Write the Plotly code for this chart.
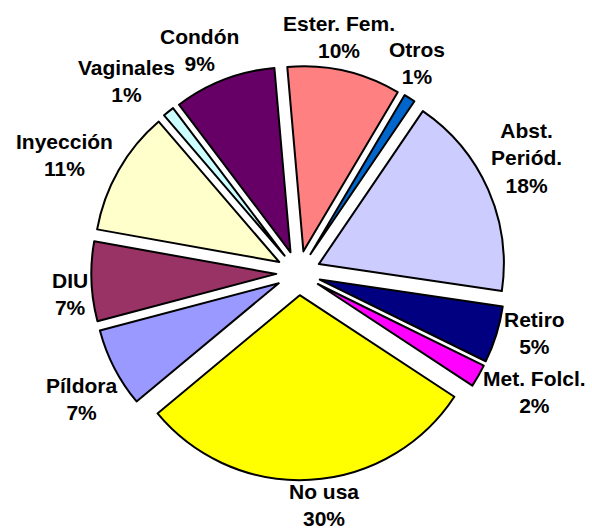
import math
import plotly.graph_objects as go

# ---- data ----
labels = ["Ester. Fem.", "Otros", "Abst.<br>Periód.", "Retiro", "Met. Folcl.",
          "No usa", "Píldora", "DIU", "Inyección", "Vaginales", "Condón"]
values = [10, 1, 18, 5, 2, 30, 7, 7, 11, 1, 9]
colors = ["#FF8080", "#0066CC", "#CCCCFF", "#000080", "#FF00FF",
          "#FFFF00", "#9999FF", "#993366", "#FFFFCC", "#CCFFFF", "#660066"]

# ---- layout / style parameters ----
W, H = 592, 531
CX, CY = 298.5, 273.0        # pie centre (px from top-left)
R = 185.0                    # pie radius (px)
PULL = 0.12                  # explosion as fraction of radius
ROTATION = -5                # start angle (deg, clockwise from 12 o'clock)
FONT_SIZE = 21
LINE_H = 1.3 * FONT_SIZE
LABEL_GAP = 2.0
V_FACTOR = 0.75              # vertical clearance factor for label boxes
LABEL_SHIFT = -3.0           # small angular shift of label placement (deg)

# Arial/Liberation Sans Bold advance widths (per 1000 em)
ADV = {'A': 722, 'C': 722, 'D': 722, 'E': 667, 'F': 611, 'I': 278, 'M': 833,
       'N': 722, 'O': 778, 'P': 667, 'R': 722, 'U': 722, 'V': 667,
       'a': 556, 'b': 611, 'c': 556, 'd': 611, 'e': 556, 'f': 333, 'g': 611,
       'i': 278, 'l': 278, 'm': 889, 'n': 611, 'o': 611, 'p': 611, 'r': 389,
       's': 556, 't': 333, 'u': 611, 'y': 556, 'í': 278, 'ó': 611,
       ' ': 278, '.': 278, '%': 889}


def text_width(s):
    return sum(ADV.get(ch, 556) for ch in s) / 1000.0 * FONT_SIZE


box = R * (1 + PULL)
dom_x = [(CX - box) / W, (CX + box) / W]
dom_y = [(H - CY - box) / H, (H - CY + box) / H]

fig = go.Figure(go.Pie(
    labels=labels,
    values=values,
    sort=False,
    direction="clockwise",
    rotation=ROTATION,
    pull=[PULL] * len(values),
    automargin=False,
    domain=dict(x=dom_x, y=dom_y),
    marker=dict(colors=colors, line=dict(color="black", width=2)),
    textinfo="none",
    showlegend=False,
    hoverinfo="label+value",
))

# ---- outside labels, placed from the slice mid-angles ----
total = sum(values)
cum = 0.0
annotations = []
for lab, v in zip(labels, values):
    mid = ROTATION + 360.0 * (cum + v / 2.0) / total
    cum += v
    a = math.radians(mid + LABEL_SHIFT)
    ux, uy = math.sin(a), -math.cos(a)
    text = f"{lab}<br>{v}%"
    lines = text.split("<br>")
    w = max(text_width(s) for s in lines)
    h = len(lines) * LINE_H
    d = R * (1 + PULL) + LABEL_GAP + abs(ux) * w / 2 + abs(uy) * h / 2 * V_FACTOR
    px, py = CX + d * ux, CY + d * uy
    annotations.append(dict(
        x=px / W, y=1 - py / H, xref="paper", yref="paper",
        text=text, showarrow=False, xanchor="center", yanchor="middle",
        align="center",
        font=dict(family="Liberation Sans, Arial, sans-serif", size=FONT_SIZE,
                  color="black", weight="bold"),
    ))

fig.update_layout(
    width=W, height=H,
    margin=dict(l=0, r=0, t=0, b=0),
    paper_bgcolor="white",
    plot_bgcolor="white",
    annotations=annotations,
)

fig.write_html("out.html", config={"displayModeBar": False},
               post_script="document.body.style.margin='0';")
